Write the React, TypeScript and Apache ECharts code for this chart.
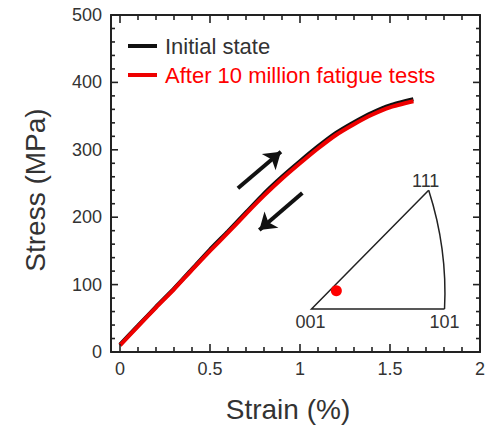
import React, { useEffect, useRef } from "react";
import * as echarts from "echarts";

// ---- data ----
const strain = [0, 0.1, 0.2, 0.3, 0.4, 0.5, 0.6, 0.7, 0.8, 0.9, 1.0, 1.1, 1.2, 1.3, 1.4, 1.5, 1.63];
const stressInitial = [11, 39, 67, 94, 123, 152, 179, 207, 235, 260, 283, 305, 325, 341, 355, 366, 375];
const stressFatigue = [10, 38, 66, 93, 122, 150, 177, 205, 232, 257, 280, 302, 322, 338, 352, 363, 372];

const xMajorTicks = [0, 0.5, 1, 1.5, 2];
const xMinorTicks = [0.1, 0.2, 0.3, 0.4, 0.6, 0.7, 0.8, 0.9, 1.1, 1.2, 1.3, 1.4, 1.6, 1.7, 1.8, 1.9];
const yMajorTicks = [0, 100, 200, 300, 400, 500];
const yMinorTicks = [20, 40, 60, 80, 120, 140, 160, 180, 220, 240, 260, 280, 320, 340, 360, 380, 420, 440, 460, 480];

const seriesNames = ["Initial state", "After 10 million fatigue tests"];

// loading / unloading direction arrows (strain, stress): [tail, head]
const arrowUp = [[0.655, 243], [0.894, 297]];
const arrowDown = [[1.013, 236], [0.774, 181]];

// inverse pole figure inset (in strain/stress coordinates)
const ipfLabels = ["001", "101", "111"];
const ipfCorners = [[1.064, 63.8], [1.803, 63.8], [1.715, 240]];
const ipfArcControl = [1.82, 152.8];
const ipfPoint = [1.202, 91];

const X_MIN = -0.05;
const X_MAX = 2;
const Y_MIN = 0;
const Y_MAX = 500;

const FONT = "'Liberation Sans', Arial, Helvetica, sans-serif";

export default function App() {
  const ref = useRef<HTMLDivElement>(null);

  useEffect(() => {
    if (!ref.current) return;
    const chart = echarts.init(ref.current, null, { renderer: "svg" });

    const pairs = (ys: number[]) => strain.map((x, i) => [x, ys[i]]);

    const axisLine = { show: true, onZero: false, lineStyle: { color: "#222", width: 2 } };
    const xBase = { type: "value", min: X_MIN, max: X_MAX, splitLine: { show: false }, axisTick: { show: false } };
    const yBase = { type: "value", min: Y_MIN, max: Y_MAX, interval: 100, splitLine: { show: false }, axisTick: { show: false } };

    const MAJOR = 8;
    const MINOR = 5;
    const TW = 1.6;

    const option: any = {
      animation: false,
      grid: { left: 111, right: 6, top: 15, bottom: 75 },
      xAxis: [
        {
          ...xBase,
          position: "bottom",
          axisLine,
          axisLabel: { show: true, customValues: xMajorTicks, fontSize: 18, color: "#333", fontFamily: FONT, margin: 8 },
        },
        {
          ...xBase,
          position: "top",
          axisLine,
          axisLabel: { show: false },
        },
      ],
      yAxis: [
        {
          ...yBase,
          position: "left",
          axisLine,
          axisLabel: { show: true, fontSize: 18, color: "#333", fontFamily: FONT, margin: 9 },
        },
        {
          ...yBase,
          position: "right",
          axisLine,
          axisLabel: { show: false },
        },
      ],
      legend: {
        left: 128,
        top: 34,
        padding: 0,
        orient: "vertical",
        itemWidth: 29,
        itemHeight: 4,
        itemGap: 5,
        icon: "rect",
        textStyle: { fontSize: 22, fontFamily: FONT, lineHeight: 24, padding: [0, 0, 0, 3] },
        data: [
          { name: seriesNames[0], textStyle: { color: "#333" } },
          { name: seriesNames[1], textStyle: { color: "#ff0000" } },
        ],
      },
      graphic: [
        {
          type: "text",
          x: 288,
          y: 409,
          style: { text: "Strain (%)", fontSize: 28, fontFamily: FONT, fill: "#333", align: "center", verticalAlign: "middle" },
        },
        {
          type: "text",
          x: 35,
          y: 190,
          rotation: Math.PI / 2,
          style: { text: "Stress (MPa)", fontSize: 28, fontFamily: FONT, fill: "#333", align: "center", verticalAlign: "middle" },
        },
      ],
      series: [
        {
          name: seriesNames[0],
          type: "line",
          xAxisIndex: 0,
          yAxisIndex: 0,
          data: pairs(stressInitial),
          showSymbol: false,
          smooth: 0.2,
          color: "#111",
          lineStyle: { color: "#111", width: 4 },
          z: 2,
        },
        {
          name: seriesNames[1],
          type: "line",
          xAxisIndex: 0,
          yAxisIndex: 0,
          data: pairs(stressFatigue),
          showSymbol: false,
          smooth: 0.2,
          color: "#ee0000",
          lineStyle: { color: "#ee0000", width: 4 },
          z: 3,
        },
        {
          type: "lines",
          coordinateSystem: "cartesian2d",
          xAxisIndex: 0,
          yAxisIndex: 0,
          symbol: ["none", "arrow"],
          symbolSize: 16,
          lineStyle: { color: "#111", width: 4, opacity: 1, curveness: 0 },
          data: [{ coords: arrowUp }, { coords: arrowDown }],
          z: 4,
        },
        {
          type: "custom",
          xAxisIndex: 0,
          yAxisIndex: 0,
          data: [ipfPoint],
          z: 5,
          renderItem: (_params: any, api: any) => {
            const c = ipfCorners.map((p) => api.coord(p));
            const ctrl = api.coord(ipfArcControl);
            const dot = api.coord(ipfPoint);
            const stroke = { stroke: "#222", lineWidth: 1.5, fill: "none" };
            const label = (text: string, x: number, y: number) => ({
              type: "text",
              x,
              y,
              style: { text, fontSize: 18, fontFamily: FONT, fill: "#333", align: "center", verticalAlign: "middle" },
            });

            // frame tick marks, inward on all four sides (filled thin rects)
            const lb = api.coord([X_MIN, Y_MIN]);
            const rt = api.coord([X_MAX, Y_MAX]);
            const tickFill = { fill: "#222" };
            const tickEls: any[] = [];
            const xTick = (v: number, len: number) => {
              const px = api.coord([v, Y_MIN])[0];
              tickEls.push({ type: "rect", shape: { x: px - TW / 2, y: lb[1] - len, width: TW, height: len }, style: tickFill });
              tickEls.push({ type: "rect", shape: { x: px - TW / 2, y: rt[1], width: TW, height: len }, style: tickFill });
            };
            const yTick = (v: number, len: number) => {
              const py = api.coord([X_MIN, v])[1];
              tickEls.push({ type: "rect", shape: { x: lb[0], y: py - TW / 2, width: len, height: TW }, style: tickFill });
              tickEls.push({ type: "rect", shape: { x: rt[0] - len, y: py - TW / 2, width: len, height: TW }, style: tickFill });
            };
            xMajorTicks.forEach((v) => xTick(v, MAJOR));
            xMinorTicks.forEach((v) => xTick(v, MINOR));
            yMajorTicks.forEach((v) => yTick(v, MAJOR - 1));
            yMinorTicks.forEach((v) => yTick(v, MINOR - 1));

            return {
              type: "group",
              children: [
                ...tickEls,
                { type: "polyline", shape: { points: [c[2], c[0], c[1]] }, style: stroke },
                {
                  type: "path",
                  shape: { pathData: `M${c[2][0]} ${c[2][1]} Q${ctrl[0]} ${ctrl[1]} ${c[1][0]} ${c[1][1]}` },
                  style: stroke,
                },
                { type: "circle", shape: { cx: dot[0], cy: dot[1], r: 5.5 }, style: { fill: "#ff0000" } },
                label(ipfLabels[0], c[0][0] - 1, c[0][1] + 13),
                label(ipfLabels[1], c[1][0], c[1][1] + 13),
                label(ipfLabels[2], c[2][0] - 3, c[2][1] - 9),
              ],
            };
          },
        },
      ],
    };

    chart.setOption(option);
    return () => chart.dispose();
  }, []);

  return <div ref={ref} style={{ position: "absolute", left: 0, top: 0, width: 488, height: 427 }} />;
}
